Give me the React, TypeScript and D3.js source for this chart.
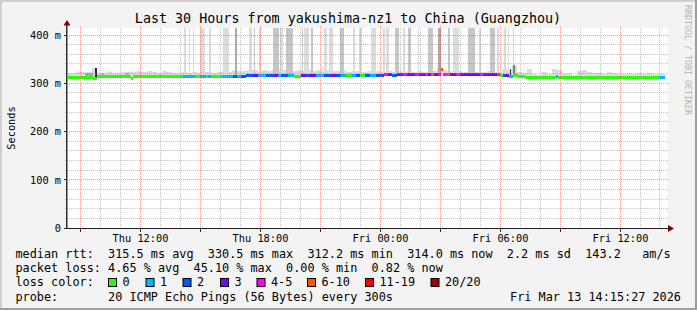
import React from 'react';
import * as d3 from 'd3';

const W = 697;
const H = 310;

// time window (30 hours)
const startTime = new Date(2026, 2, 12, 8, 21);
const endTime = new Date(2026, 2, 13, 14, 21);
const dataEndMin = 1794;

// y axis
const yGridMinor = [0, 20, 40, 60, 80, 100, 120, 140, 160, 180, 200, 220, 240, 260, 280, 300, 320, 340, 360, 380, 400];
const yTickValues = [0, 100, 200, 300, 400];
const yTickLabels = ['0', '100 m', '200 m', '300 m', '400 m'];

// median rtt runs (minutes since start, ms, loss category index)
const runStartMin = [0, 78, 90, 192, 198, 348, 384, 399, 417, 423, 432, 465, 498, 510, 522, 537, 561, 573, 597, 621, 633, 642, 663, 681, 702, 717, 729, 747, 771, 792, 807, 822, 837, 855, 867, 879, 894, 909, 927, 951, 963, 975, 990, 1008, 1020, 1044, 1056, 1074, 1083, 1092, 1101, 1113, 1122, 1128, 1140, 1149, 1167, 1179, 1239, 1248, 1290, 1299, 1308, 1317, 1326, 1338, 1353, 1374, 1467, 1473, 1779];
const runMedianMs = [312, 310, 314, 310, 314, 314, 314, 314, 314, 314, 314, 315, 315, 315, 315, 316, 317, 316, 316, 317, 316, 316, 316, 315, 317, 317, 317, 316, 316, 317, 316, 316, 316, 316, 316, 316, 317, 317, 317, 318, 318, 317, 318, 318, 318, 318, 318, 318, 318, 318, 318, 318, 328, 318, 318, 318, 318, 318, 318, 318, 318, 317, 316, 316, 315, 316, 315, 312, 313, 312, 312];
const runLoss = [0, 0, 0, 0, 0, 1, 0, 1, 0, 1, 0, 1, 2, 1, 2, 2, 3, 1, 2, 3, 1, 2, 1, 0, 3, 2, 3, 1, 2, 3, 2, 1, 0, 1, 2, 0, 2, 1, 2, 4, 3, 2, 3, 4, 3, 4, 3, 4, 3, 5, 3, 4, 5, 4, 5, 3, 4, 3, 4, 3, 4, 0, 2, 3, 1, 0, 0, 0, 1, 0, 1];

// smoke: top of ping spread per 15-minute block (ms)
const smokeTopMs = [
  321, 322, 324, 323, 324, 331, 322, 321, 324, 322, 321, 323, 324, 323, 325, 324, 325, 323, 322, 326,
  323, 322, 321, 323, 322, 323, 322, 324, 323, 322, 323, 325, 323, 327, 325, 326, 327, 328, 326, 328,
  326, 327, 329, 327, 326, 325, 327, 326, 328, 326, 327, 325, 327, 326, 325, 326, 324, 325, 326, 324,
  325, 324, 325, 324, 325, 324, 325, 324, 326, 324, 325, 324, 326, 325, 331, 327, 326, 324, 325, 324,
  323, 324, 323, 324, 325, 323, 324, 330, 327, 335, 323, 321, 329, 319, 318, 323, 319, 329, 327, 319,
  321, 318, 325, 328, 323, 321, 322, 320, 323, 321, 320, 319, 322, 319, 321, 319, 322, 320, 319, 319,
];

// tall smoke columns reaching past the top of the graph
const tallStartMin = [351, 365, 377, 400, 427, 467, 505, 547, 560, 575, 617, 640, 657, 705, 712, 732, 772, 787, 819, 857, 877, 912, 947, 957, 985, 1007, 1022, 1052, 1082, 1112, 1142, 1159, 1202, 1237, 1269, 1290, 1312, 1322, 1337];
const tallEndMin = [357, 370, 382, 413, 432, 485, 509, 555, 565, 582, 637, 647, 679, 709, 725, 737, 779, 799, 832, 865, 885, 927, 955, 967, 995, 1015, 1032, 1057, 1097, 1122, 1149, 1177, 1225, 1242, 1285, 1297, 1317, 1327, 1342];
const tallShade = ['l', 'l', 'l', 'l', 'l', 'l', 'd', 'l', 'm', 'l', 'm', 'l', 'm', 'm', 'l', 'm', 'l', 'l', 'm', 'l', 'l', 'l', 'l', 'l', 'm', 'l', 'm', 'l', 'm', 'd', 'm', 'l', 'm', 'l', 'm', 'l', 'l', 'l', 'l'];

// short dense smoke spikes
const spikeStartMin = [54, 84, 105, 174, 1121, 1329, 1338];
const spikeEndMin = [78, 90, 111, 186, 1127, 1333, 1344];
const spikeTopMs = [322, 332, 321, 321, 331, 330, 338];
const spikeShade = ['#a8a8a8', '#2a2a2a', '#b0b0b0', '#b4b4b4', '#303030', '#404040', '#808080'];

// loss legend
const lossLabels = ['0', '1', '2', '3', '4-5', '6-10', '11-19', '20/20'];
const lossColors = ['#26ff00', '#00b8ff', '#0059ff', '#7e00ff', '#ff00ff', '#ff5500', '#ff0000', '#a10000'];
const lossBoxX = [108, 145.5, 182.5, 220, 256.5, 307, 365, 430.5];

const titleText = 'Last 30 Hours from yakushima-nz1 to China (Guangzhou)';
const legendRtt = 'median rtt:  315.5 ms avg  330.5 ms max  312.2 ms min  314.0 ms now  2.2 ms sd  143.2   am/s';
const legendLoss = 'packet loss: 4.65 % avg  45.10 % max  0.00 % min  0.82 % now';
const legendColor = 'loss color:';
const legendProbe = 'probe:       20 ICMP Echo Pings (56 Bytes) every 300s';
const dateText = 'Fri Mar 13 14:15:27 2026';

const MONO = '"DejaVu Sans Mono", monospace';

const X0 = 67;
const X1 = 667;
const YTOP = 28;

export default function App() {
  const x = d3.scaleTime().domain([startTime, endTime]).range([X0, X1]);
  const y = d3.scaleLinear().domain([0, 400]).range([228, 35]);
  const tm = (m: number) => new Date(startTime.getTime() + m * 60000);
  const xm = (m: number) => x(tm(m));

  const medianAt = (m: number) => {
    let idx = 0;
    for (let i = 0; i < runStartMin.length; i++) if (runStartMin[i] <= m) idx = i;
    return runMedianMs[idx];
  };

  const crisp = (v: number) => Math.floor(v) + 0.5;

  const hours = d3.timeHour.every(1)!.range(startTime, endTime);
  const labelTicks = d3.timeHour.every(6)!.range(startTime, endTime);
  const fmt = d3.timeFormat('%a %H:%M');

  const shadeColor: Record<string, string> = { l: '#dcdcdc', m: '#c6c6c6', d: '#a9a9a9' };

  const gridMinor = 'rgba(150,150,150,0.55)';
  const gridMajor = 'rgba(225,60,60,0.5)';

  return (
    <svg
      width={W}
      height={H}
      style={{ position: 'absolute', left: 0, top: 0, display: 'block' }}
      xmlns="http://www.w3.org/2000/svg"
    >
      {/* background and 3D frame */}
      <rect x={0} y={0} width={W} height={H} fill="#f3f3f3" />
      <rect x={0} y={0} width={W} height={2} fill="#cfcfcf" />
      <rect x={0} y={0} width={2} height={H} fill="#cfcfcf" />
      <rect x={W - 2} y={0} width={2} height={H} fill="#9e9e9e" />
      <rect x={0} y={H - 2} width={W} height={2} fill="#9e9e9e" />

      {/* canvas */}
      <rect x={X0} y={YTOP} width={X1 - X0 + 1} height={228 - YTOP} fill="#ffffff" />

      {/* smoke */}
      <g shapeRendering="crispEdges">
        {smokeTopMs.map((top, i) => {
          const t0 = i * 15;
          const t1 = Math.min(t0 + 15, dataEndMin);
          if (t0 >= dataEndMin) return null;
          const med = medianAt(t0 + 7);
          const ya = y(top);
          const yb = y(med);
          return <rect key={'s' + i} x={xm(t0)} y={ya} width={xm(t1) - xm(t0)} height={Math.max(0, yb - ya)} fill="#dadada" />;
        })}
        {tallStartMin.map((s, i) => {
          const e = tallEndMin[i];
          const med = medianAt((s + e) / 2);
          return <rect key={'t' + i} x={xm(s)} y={YTOP} width={xm(e) - xm(s)} height={y(med) - YTOP} fill={shadeColor[tallShade[i]]} />;
        })}
        {spikeStartMin.map((s, i) => {
          const e = spikeEndMin[i];
          const med = medianAt((s + e) / 2);
          return <rect key={'k' + i} x={xm(s)} y={y(spikeTopMs[i])} width={xm(e) - xm(s)} height={y(med) - y(spikeTopMs[i])} fill={spikeShade[i]} />;
        })}
      </g>

      {/* median line coloured by loss */}
      <g shapeRendering="crispEdges">
        {runStartMin.map((s, i) => {
          const e = i + 1 < runStartMin.length ? runStartMin[i + 1] : dataEndMin;
          return <rect key={'m' + i} x={xm(s)} y={y(runMedianMs[i]) - 1.5} width={xm(e) - xm(s)} height={3} fill={lossColors[runLoss[i]]} />;
        })}
      </g>

      {/* grid */}
      <g shapeRendering="crispEdges" strokeWidth={1}>
        {yGridMinor.filter((v) => v % 100 !== 0).map((v) => (
          <line key={'hy' + v} x1={X0 - 2} x2={X1 + 1} y1={crisp(y(v))} y2={crisp(y(v))} stroke={gridMinor} strokeDasharray="1 1" />
        ))}
        {hours.filter((h) => h.getHours() % 3 !== 0).map((h) => (
          <line key={'vx' + h.getTime()} x1={crisp(x(h))} x2={crisp(x(h))} y1={YTOP} y2={230} stroke={gridMinor} strokeDasharray="1 1" />
        ))}
        {yTickValues.filter((v) => v > 0).map((v) => (
          <line key={'Hy' + v} x1={X0 - 2} x2={X1 + 1} y1={crisp(y(v))} y2={crisp(y(v))} stroke={gridMajor} strokeDasharray="1 1" />
        ))}
        {hours.filter((h) => h.getHours() % 3 === 0).map((h) => (
          <line key={'Vx' + h.getTime()} x1={crisp(x(h))} x2={crisp(x(h))} y1={YTOP - 2} y2={231} stroke={gridMajor} strokeDasharray="1 1" />
        ))}
      </g>

      {/* axes */}
      <g shapeRendering="crispEdges">
        <line x1={X0 - 0.5} x2={X0 - 0.5} y1={24} y2={229} stroke="#303030" strokeWidth={1} />
        <line x1={X0 + 0.5} x2={X0 + 0.5} y1={24} y2={229} stroke="#909090" strokeWidth={1} />
        <line x1={X0 - 3} x2={668} y1={228.5} y2={228.5} stroke="#202020" strokeWidth={1} />
        {hours.filter((h) => h.getHours() % 3 === 0).map((h) => (
          <line key={'tk' + h.getTime()} x1={crisp(x(h))} x2={crisp(x(h))} y1={228} y2={232} stroke="#303030" />
        ))}
        {yTickValues.map((v) => (
          <line key={'yt' + v} x1={X0 - 3} x2={X0} y1={crisp(y(v))} y2={crisp(y(v))} stroke="#303030" />
        ))}
      </g>
      <polygon points={`${X0 - 3.5},25.5 ${X0 + 3.5},25.5 ${X0},20`} fill="#800000" />
      <polygon points={`668,225 668,232 674,228.5`} fill="#800000" />

      {/* axis labels */}
      <g fontFamily={MONO} fontSize={10.3} fill="#000">
        {yTickValues.map((v, i) => (
          <text key={'yl' + v} x={61} y={y(v) + 3.8} textAnchor="end">{yTickLabels[i]}</text>
        ))}
        {labelTicks.map((t) => (
          <text key={'xl' + t.getTime()} x={x(t) + 0.5} y={241.5} textAnchor="middle">{fmt(t)}</text>
        ))}
        <text transform="translate(14.5,128) rotate(-90)" textAnchor="middle">Seconds</text>
      </g>

      {/* title */}
      <text x={348} y={23} textAnchor="middle" fontFamily={MONO} fontSize={13.37} fill="#000">{titleText}</text>

      {/* watermark */}
      <text transform="translate(684.5,5) rotate(90)" fontFamily={MONO} fontSize={8.3} fill="#b4b4b4">RRDTOOL / TOBI OETIKER</text>

      {/* legend */}
      <g fontFamily={MONO} fontSize={11.83} fill="#000" style={{ whiteSpace: 'pre' }}>
        <text x={15.5} y={258} xmlSpace="preserve">{legendRtt}</text>
        <text x={15.5} y={272} xmlSpace="preserve">{legendLoss}</text>
        <text x={15.5} y={286} xmlSpace="preserve">{legendColor}</text>
        {lossLabels.map((l, i) => (
          <g key={'lc' + i}>
            <rect x={lossBoxX[i] + 0.5} y={278.5} width={8} height={8} fill={lossColors[i]} stroke="#000" strokeWidth={1} />
            <text x={lossBoxX[i] + 14.5} y={286}>{l}</text>
          </g>
        ))}
        <text x={15.5} y={300.5} xmlSpace="preserve">{legendProbe}</text>
        <text x={681} y={300.5} textAnchor="end">{dateText}</text>
      </g>
    </svg>
  );
}
